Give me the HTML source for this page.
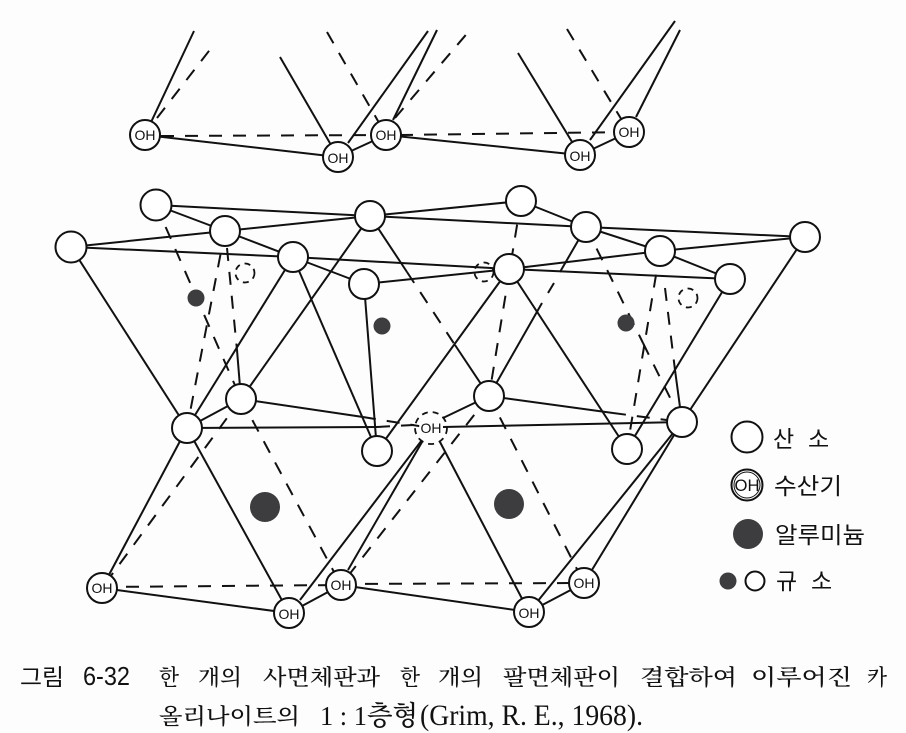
<!DOCTYPE html>
<html><head><meta charset="utf-8"><style>
html,body{margin:0;padding:0;background:#fdfdfd}
svg{display:block}
.l line{stroke:#111;stroke-width:2;fill:none}
.d line{stroke:#111;stroke-width:2;stroke-dasharray:13 11;fill:none}
.o circle{fill:#fff;stroke:#111;stroke-width:2}
.s text{font-family:"Liberation Sans","Noto Sans CJK KR",sans-serif;fill:#111}
.c text{font-family:"Liberation Serif","Noto Serif CJK SC",serif;font-size:22px;fill:#111;font-weight:500}
.h text{font-family:"Liberation Sans",sans-serif;font-size:14px;fill:#111;text-anchor:middle}
</style></head><body>
<svg width="906" height="733" viewBox="0 0 906 733" xmlns="http://www.w3.org/2000/svg">
<g class="d">
<line x1="157" y1="118" x2="212" y2="47"/><line x1="161" y1="136" x2="386" y2="135"/>
<line x1="327" y1="32" x2="386" y2="135"/><line x1="395" y1="118" x2="470" y2="30"/>
<line x1="400" y1="135" x2="629" y2="132"/><line x1="567" y1="29" x2="629" y2="132"/>
<line x1="156" y1="205" x2="241" y2="399"/><line x1="225" y1="231" x2="187" y2="428"/>
<line x1="227" y1="248" x2="237" y2="350"/><line x1="521" y1="201" x2="489" y2="396"/>
<line x1="407" y1="272" x2="455" y2="345"/><line x1="586" y1="227" x2="643" y2="343"/>
<line x1="643" y1="343" x2="682" y2="422"/><line x1="660" y1="251" x2="627" y2="449"/>
<line x1="665" y1="288" x2="675" y2="370"/>
<line x1="363" y1="417" x2="431" y2="428"/><line x1="377" y1="427" x2="431" y2="424"/>
<line x1="613" y1="413" x2="682" y2="422"/>
<line x1="241" y1="399" x2="102" y2="588"/><line x1="241" y1="399" x2="341" y2="585"/>
<line x1="102" y1="587" x2="341" y2="585"/><line x1="489" y1="396" x2="341" y2="585"/>
<line x1="341" y1="584" x2="584" y2="583"/><line x1="489" y1="396" x2="584" y2="583"/>
</g>
<g class="l">
<line x1="145" y1="135" x2="194" y2="31"/><line x1="145" y1="135" x2="338" y2="157"/>
<line x1="338" y1="157" x2="280" y2="57"/><line x1="338" y1="157" x2="386" y2="135"/>
<line x1="348" y1="143" x2="428" y2="31"/><line x1="393" y1="120" x2="437" y2="30"/>
<line x1="386" y1="135" x2="580" y2="155"/><line x1="580" y1="155" x2="518" y2="53"/>
<line x1="590" y1="140" x2="675" y2="21"/><line x1="636" y1="117" x2="680" y2="30"/>
<line x1="580" y1="155" x2="629" y2="132"/>
<line x1="156" y1="205" x2="370" y2="216"/><line x1="156" y1="205" x2="225" y2="231"/>
<line x1="71" y1="247" x2="225" y2="231"/><line x1="71" y1="247" x2="293" y2="257"/>
<line x1="225" y1="231" x2="370" y2="216"/><line x1="225" y1="231" x2="293" y2="257"/>
<line x1="370" y1="216" x2="521" y2="201"/><line x1="370" y1="216" x2="586" y2="227"/>
<line x1="293" y1="257" x2="364" y2="284"/><line x1="293" y1="257" x2="509" y2="269"/>
<line x1="364" y1="284" x2="509" y2="269"/><line x1="521" y1="201" x2="586" y2="227"/>
<line x1="586" y1="227" x2="660" y2="251"/><line x1="586" y1="227" x2="805" y2="237"/>
<line x1="660" y1="251" x2="805" y2="237"/><line x1="660" y1="251" x2="730" y2="279"/>
<line x1="509" y1="269" x2="730" y2="279"/><line x1="509" y1="269" x2="660" y2="251"/>
<line x1="71" y1="247" x2="187" y2="428"/><line x1="370" y1="216" x2="241" y2="399"/>
<line x1="293" y1="257" x2="187" y2="428"/><line x1="293" y1="257" x2="377" y2="451"/>
<line x1="370" y1="216" x2="407" y2="272"/><line x1="455" y1="345" x2="489" y2="396"/>
<line x1="364" y1="284" x2="377" y2="451"/>
<line x1="237" y1="350" x2="241" y2="399"/>
<line x1="509" y1="269" x2="377" y2="451"/><line x1="509" y1="269" x2="627" y2="449"/>
<line x1="586" y1="227" x2="560" y2="272"/><line x1="554" y1="283" x2="548" y2="293"/><line x1="542" y1="303" x2="489" y2="396"/>
<line x1="675" y1="370" x2="682" y2="422"/>
<line x1="730" y1="279" x2="627" y2="449"/><line x1="805" y1="237" x2="682" y2="422"/>
<line x1="187" y1="428" x2="241" y2="399"/><line x1="241" y1="399" x2="363" y2="417"/>
<line x1="187" y1="428" x2="377" y2="427"/><line x1="443" y1="418" x2="489" y2="396"/>
<line x1="443" y1="427" x2="682" y2="422"/><line x1="489" y1="396" x2="613" y2="413"/>
<line x1="187" y1="428" x2="102" y2="588"/><line x1="187" y1="428" x2="289" y2="613"/>
<line x1="102" y1="588" x2="289" y2="613"/><line x1="289" y1="613" x2="341" y2="585"/>
<line x1="422" y1="440" x2="300" y2="600"/><line x1="422" y1="442" x2="348" y2="570"/>
<line x1="440" y1="442" x2="529" y2="612"/><line x1="341" y1="585" x2="529" y2="612"/>
<line x1="529" y1="612" x2="584" y2="583"/><line x1="682" y1="422" x2="529" y2="612"/>
<line x1="682" y1="422" x2="584" y2="583"/>
</g>
<g fill="#3d3d3f">
<circle cx="196" cy="298" r="8.5"/><circle cx="382" cy="326" r="8.5"/><circle cx="626" cy="323" r="8.5"/>
<circle cx="265" cy="507" r="15"/><circle cx="509" cy="504" r="15"/>
<circle cx="748" cy="534" r="15"/><circle cx="728" cy="581" r="8.5"/>
</g>
<g fill="none" stroke="#111" stroke-width="1.8" stroke-dasharray="6 5">
<circle cx="245" cy="273" r="9.5"/><circle cx="688" cy="298" r="9.5"/><circle cx="484" cy="272" r="9.5"/>
<circle cx="431" cy="428" r="16"/>
</g>
<circle cx="431" cy="428" r="12" fill="#fdfdfd"/>
<g class="o">
<circle cx="145" cy="135" r="15"/><circle cx="338" cy="157" r="15"/><circle cx="386" cy="135" r="15"/>
<circle cx="580" cy="155" r="15"/><circle cx="629" cy="132" r="15"/>
<circle cx="156" cy="205" r="15.5"/><circle cx="225" cy="231" r="15"/><circle cx="71" cy="247" r="15.5"/>
<circle cx="370" cy="216" r="15"/><circle cx="293" cy="257" r="15"/><circle cx="364" cy="284" r="15"/>
<circle cx="521" cy="201" r="15"/><circle cx="586" cy="227" r="15"/><circle cx="509" cy="269" r="15"/>
<circle cx="660" cy="251" r="15"/><circle cx="730" cy="279" r="15"/><circle cx="805" cy="237" r="15"/>
<circle cx="187" cy="428" r="15"/><circle cx="241" cy="399" r="15"/><circle cx="377" cy="451" r="15"/>
<circle cx="489" cy="396" r="15"/><circle cx="627" cy="449" r="15"/><circle cx="682" cy="422" r="15"/>
<circle cx="102" cy="588" r="15"/><circle cx="289" cy="613" r="15"/><circle cx="341" cy="585" r="15"/>
<circle cx="529" cy="612" r="15"/><circle cx="584" cy="583" r="15"/>
<circle cx="747" cy="437" r="15.5"/><circle cx="747" cy="485" r="15.5"/><circle cx="755" cy="581" r="9.5"/>
</g>
<circle cx="747" cy="485" r="13" fill="none" stroke="#111" stroke-width="1"/>
<g class="h">
<text x="145" y="140">OH</text><text x="338" y="163">OH</text><text x="386" y="140">OH</text>
<text x="580" y="161">OH</text><text x="629" y="137">OH</text><text x="431" y="433">OH</text>
<text x="102" y="593">OH</text><text x="289" y="619">OH</text><text x="341" y="590">OH</text>
<text x="529" y="618">OH</text><text x="584" y="588">OH</text>
<text x="747" y="491" style="font-size:17px" textLength="25" lengthAdjust="spacingAndGlyphs">OH</text>
</g>
<g class="s">
<text x="773" y="447" font-size="23">산</text><text x="808" y="447" font-size="23">소</text>
<text x="774" y="494" font-size="23" textLength="68" lengthAdjust="spacingAndGlyphs">수산기</text>
<text x="775" y="543" font-size="23" textLength="90" lengthAdjust="spacingAndGlyphs">알루미늄</text>
<text x="776" y="589" font-size="23">규</text><text x="811" y="589" font-size="23">소</text>
</g>
<g class="s">
<text x="20" y="685" font-size="23" textLength="44" lengthAdjust="spacingAndGlyphs">그림</text>
<text x="83" y="685" font-size="26" textLength="47" lengthAdjust="spacingAndGlyphs">6-32</text>
</g>
<g class="c">
<text x="159" y="685" textLength="20" lengthAdjust="spacingAndGlyphs">한</text>
<text x="198" y="685" textLength="44" lengthAdjust="spacingAndGlyphs">개의</text>
<text x="263" y="685" textLength="117" lengthAdjust="spacingAndGlyphs">사면체판과</text>
<text x="400" y="685" textLength="20" lengthAdjust="spacingAndGlyphs">한</text>
<text x="438" y="685" textLength="45" lengthAdjust="spacingAndGlyphs">개의</text>
<text x="503" y="685" textLength="117" lengthAdjust="spacingAndGlyphs">팔면체판이</text>
<text x="640" y="685" textLength="97" lengthAdjust="spacingAndGlyphs">결합하여</text>
<text x="751" y="685" textLength="101" lengthAdjust="spacingAndGlyphs">이루어진</text>
<text x="867" y="685" textLength="20" lengthAdjust="spacingAndGlyphs">카</text>
<text x="159" y="724" textLength="141" lengthAdjust="spacingAndGlyphs">올리나이트의</text>
<text x="320" y="725" font-size="27" style="font-size:27px" textLength="98" lengthAdjust="spacingAndGlyphs">1 : 1층형</text>
<text x="420" y="725" style="font-size:30px" textLength="223" lengthAdjust="spacingAndGlyphs">(Grim, R. E., 1968).</text>
</g>
</svg>
</body></html>
